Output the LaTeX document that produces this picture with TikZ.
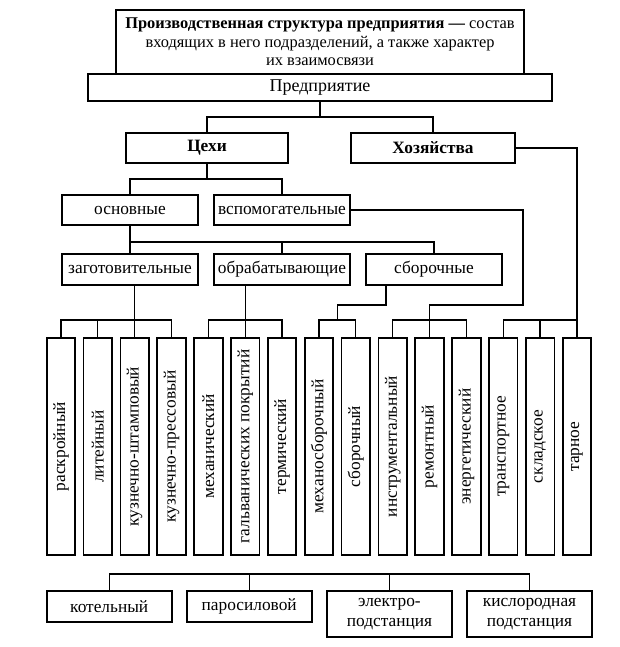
\documentclass[tikz,border=0pt]{standalone}
\usepackage{fontspec}
\setmainfont{Liberation Serif}
\usepackage{graphicx}
\usetikzlibrary{calc}
\newcommand\mybox[7][]{\node[box,#1,minimum width={(#4-#2)*0.75pt},minimum height={(#5-#3)*0.75pt}] (#6) at ({(#2+#4)/2},{(#3+#5)/2}) {#7};}
\begin{document}
\begin{tikzpicture}[x=0.75pt,y=-0.75pt,
  box/.style={draw,line width=1.3pt,inner sep=0pt,outer sep=0pt,align=center,font=\fontsize{13}{15}\selectfont},
  ln/.style={line width=1pt}]
\useasboundingbox (0,0) rectangle (619,647);
% bus levels
\coordinate (yA) at (0,117);
\coordinate (yB) at (0,179);
\coordinate (yC) at (0,242);
\coordinate (yBr) at (0,320);
\coordinate (yBot) at (0,574);
% boxes
\mybox[font=\fontsize{12.3}{14}\selectfont]{116}{10}{524}{74}{title}{\textbf{Производственная структура предприятия —} состав\\входящих в него подразделений, а также характер\\их взаимосвязи}
\mybox[font=\fontsize{13.5}{15}\selectfont]{88}{74}{552}{101}{ent}{Предприятие}
\mybox[font=\bfseries\fontsize{13}{15}\selectfont]{126}{133}{288}{163}{ceh}{Цехи}
\mybox[font=\bfseries\fontsize{13}{15}\selectfont]{351}{133}{515}{163}{hoz}{Хозяйства}
\mybox{62}{195}{198}{225}{osn}{основные}
\mybox{214}{195}{350}{225}{vsp}{вспомогательные}
\mybox{62}{254}{198}{285}{zag}{заготовительные}
\mybox{214}{254}{350}{285}{obr}{обрабатывающие}
\mybox{366}{254}{502}{285}{sbo}{сборочные}
\foreach \i/\t in {1/раскройный,2/литейный,3/кузнечно-штамповый,4/кузнечно-прессовый,5/механический,6/гальванических покрытий,7/термический,8/механосборочный,9/сборочный,10/инструментальный,11/ремонтный,12/энергетический,13/транспортное,14/складское,15/тарное}{
  \pgfmathsetmacro\l{46.7+36.86*(\i-1)}
  \pgfmathsetmacro\r{\l+28.5}
  \mybox{\l}{338}{\r}{555}{v\i}{\rotatebox{90}{\t}}
}
\mybox{46.7}{591}{171.7}{622}{kot}{котельный}
\mybox{186.7}{591}{311.7}{622}{par}{паросиловой}
\mybox{327}{591}{452}{637}{ele}{электро-\\подстанция}
\mybox{467}{591}{592}{637}{kis}{кислородная\\подстанция}
% connectors
\draw[ln] (ent.south) -- (ent.south |- yA);
\draw[ln] (ceh.north) -- (ceh.north |- yA) -- (hoz.north |- yA) -- (hoz.north);
\draw[ln] (hoz.east) -| (v15.north);
\draw[ln] (ceh.south) -- (ceh.south |- yB);
\draw[ln] (osn.north) -- (osn.north |- yB) -- (vsp.north |- yB) -- (vsp.north);
\draw[ln] (osn.south) -- (zag.north);
\draw[ln] (osn.south |- yC) -- (sbo.north |- yC) -- (sbo.north);
\draw[ln] (obr.north) -- (obr.north |- yC);
\coordinate (c1) at (523,305);
\coordinate (c2) at (337.4,305);
\draw[ln] (vsp.east) -| (c1) -| (v11.north);
\draw[ln] ($(sbo.south)+(-48,0)$) |- (c2) -- (c2 |- yBr);
\draw[ln] (zag.south -| v3.north) -- (v3.north);
\draw[ln] (obr.south -| v6.north) -- (v6.north);
% brackets
\draw[ln] (v1.north) -- (v1.north |- yBr) -- (v4.north |- yBr) -- (v4.north);
\draw[ln] (v2.north) -- (v2.north |- yBr);
\draw[ln] (v5.north) -- (v5.north |- yBr) -- (v7.north |- yBr) -- (v7.north);
\draw[ln] (v8.north) -- (v8.north |- yBr) -- (v9.north |- yBr) -- (v9.north);
\draw[ln] (v10.north) -- (v10.north |- yBr) -- (v12.north |- yBr) -- (v12.north);
\draw[ln] (v13.north) -- (v13.north |- yBr) -- (v15.north |- yBr);
\draw[ln] (v14.north) -- (v14.north |- yBr);
% energy
\draw[ln] ($(v12.south)+(7.5,0)$) -- ($(v12.south)+(7.5,0)$ |- yBot);
\draw[ln] (kot.north) -- (kot.north |- yBot) -- (kis.north |- yBot) -- (kis.north);
\draw[ln] (par.north) -- (par.north |- yBot);
\draw[ln] (ele.north) -- (ele.north |- yBot);
\end{tikzpicture}
\end{document}
